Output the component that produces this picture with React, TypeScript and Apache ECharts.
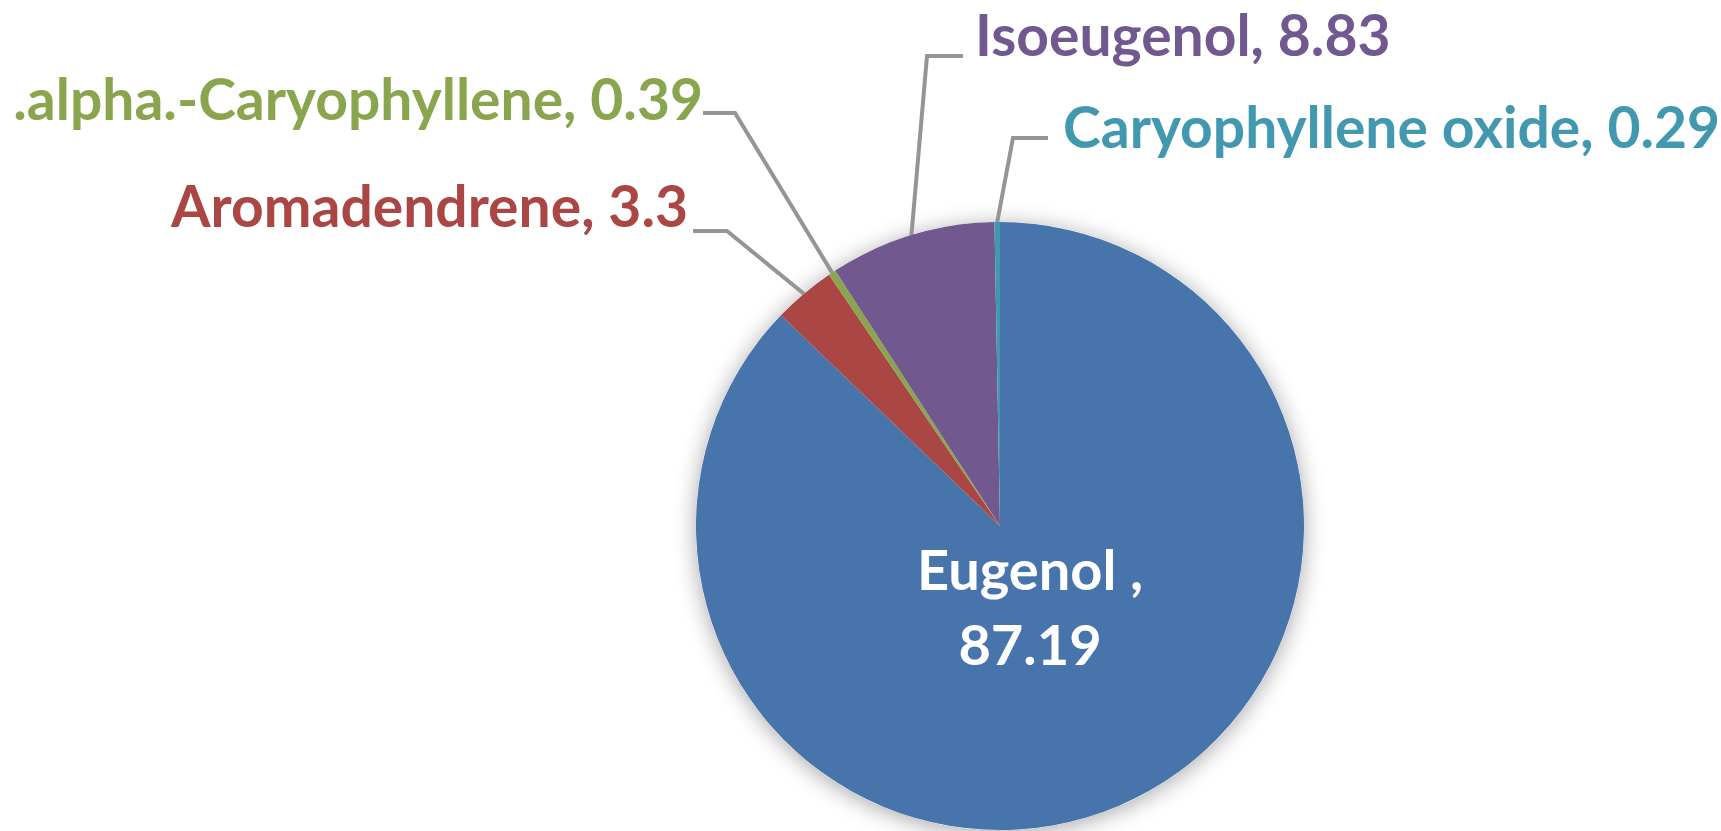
import React, { useEffect, useRef } from "react";
import * as echarts from "echarts";

const compounds = ["Eugenol ", "Aromadendrene", ".alpha.-Caryophyllene", "Isoeugenol", "Caryophyllene oxide"];
const percents = [87.19, 3.3, 0.39, 8.83, 0.29];
const colors = ["#4674AB", "#AA4643", "#89A54E", "#71588F", "#4198AF"];

const FONT = "Lato";
const FS = 57;

// label placement (layout only): [anchorX, middleY, align, elbowX, elbowY, endX]
const placements: Record<number, [number, number, string, number, number, number]> = {
  1: [688, 205, "right", 727, 231, 693],
  2: [703, 98, "right", 735, 113, 703],
  3: [975, 34, "left", 927, 56, 963],
  4: [1063, 126, "left", 1013, 138, 1048],
};

export default function App() {
  const ref = useRef<HTMLDivElement>(null);
  useEffect(() => {
    document.body.style.margin = "0";
    const chart = echarts.init(ref.current!, null, { renderer: "svg" });
    const data = compounds.map((name, i) => ({
      name,
      value: percents[i],
      itemStyle: { color: colors[i] },
      label:
        i === 0
          ? {
              position: "inside",
              color: "#ffffff",
              fontSize: 56,
              lineHeight: 75,
              formatter: "{b},\n{c}",
              align: "center",
            }
          : { color: colors[i] },
    }));
    chart.setOption({
      animation: false,
      backgroundColor: "#ffffff",
      series: [
        {
          type: "pie",
          silent: true,
          center: [1000, 526],
          radius: 304,
          z: 1,
          label: { show: false },
          labelLine: { show: false },
          itemStyle: {
            color: "#ffffff",
            shadowBlur: 22,
            shadowColor: "rgba(0,0,0,0.35)",
            shadowOffsetY: 3,
          },
          data: [{ value: 1, name: "" }],
        },
        {
          type: "pie",
          z: 2,
          center: [1000, 526],
          radius: 304,
          startAngle: 90,
          clockwise: true,
          avoidLabelOverlap: false,
          label: {
            show: true,
            position: "outside",
            fontFamily: FONT,
            fontWeight: "bold",
            fontSize: FS,
            formatter: "{b}, {c}",
          },
          labelLine: {
            show: true,
            length: 10,
            length2: 10,
            lineStyle: { color: "#959595", width: 4 },
          },
          labelLayout: (params: any) => {
            const i = params.dataIndex;
            if (i === 0) {
              return { x: 1030, y: 606, align: "center", verticalAlign: "middle" };
            }
            const p = placements[i];
            const start = params.labelLinePoints ? params.labelLinePoints[0] : [p[3], p[4]];
            return {
              x: p[0],
              y: p[1],
              align: p[2],
              verticalAlign: "middle",
              labelLinePoints: [start, [p[3], p[4]], [p[5], p[4]]],
            };
          },
          data,
        },
      ],
    });
    return () => chart.dispose();
  }, []);
  return <div ref={ref} style={{ width: 1721, height: 831 }} />;
}
